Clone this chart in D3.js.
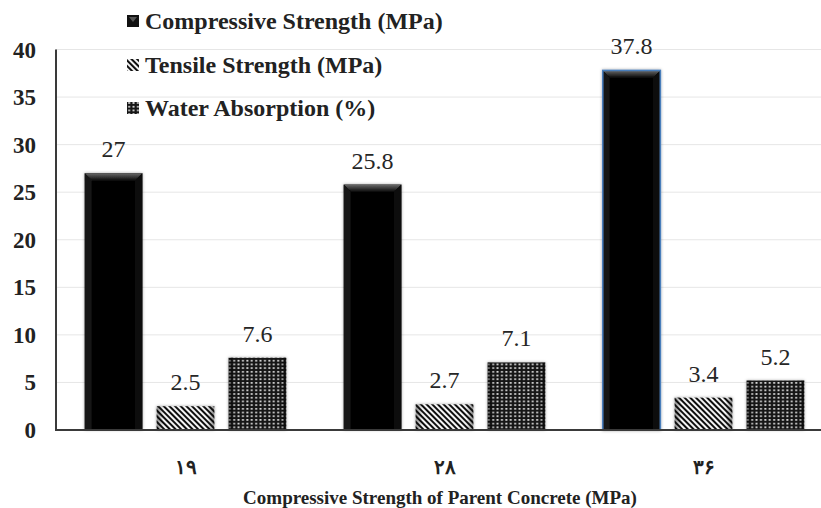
<!DOCTYPE html>
<html>
<head>
<meta charset="utf-8">
<script src="https://cdn.jsdelivr.net/npm/d3@7/dist/d3.min.js"></script>
<style>
  html, body { margin: 0; padding: 0; background: #fff; }
  svg { display: block; }
</style>
</head>
<body>
<svg id="chart" width="821" height="508"></svg>
<script>
// Parent concrete strength groups (Persian numerals) and measured properties
const categories = ["۱۹", "۲۸", "۳۶"];
const seriesNames = ["Compressive Strength (MPa)", "Tensile Strength (MPa)", "Water Absorption (%)"];
const compressive = [27, 25.8, 37.8];
const tensile = [2.5, 2.7, 3.4];
const absorption = [7.6, 7.1, 5.2];
const yTicks = [0, 5, 10, 15, 20, 25, 30, 35, 40];
const xTitle = "Compressive Strength of Parent Concrete (MPa)";

const seriesValues = [compressive, tensile, absorption];
const rows = categories.map((c, i) => ({
  category: c,
  values: seriesNames.map((s, k) => ({ series: s, k, value: seriesValues[k][i] }))
}));

const W = 821, H = 508;
const FONT = '"Liberation Serif", "Times New Roman", serif';
const svg = d3.select("#chart").style("font-family", FONT);

const plotLeft = 56, plotRight = 833, plotTop = 49.5, plotBottom = 430;

const x0 = d3.scaleBand().domain(categories).range([plotLeft, plotRight]).paddingInner(0).paddingOuter(0);
const x1 = d3.scaleBand().domain(d3.range(seriesNames.length))
  .range([0, x0.bandwidth()]).paddingInner(0.2).paddingOuter(0.4);
const y = d3.scaleLinear().domain([0, 40]).range([plotBottom, plotTop]);

// ---------- fills ----------
const defs = svg.append("defs");

const stripes = defs.append("pattern").attr("id", "stripes")
  .attr("patternUnits", "userSpaceOnUse").attr("width", 4).attr("height", 4)
  .attr("patternTransform", "rotate(-45)");
stripes.append("rect").attr("width", 4).attr("height", 4).attr("fill", "#f4f4f4");
stripes.append("rect").attr("width", 2).attr("height", 4).attr("fill", "#111");

const grid = defs.append("pattern").attr("id", "grid")
  .attr("patternUnits", "userSpaceOnUse").attr("width", 4.4).attr("height", 3.7);
grid.append("rect").attr("width", 4.4).attr("height", 3.7).attr("fill", "#151515");
grid.append("rect").attr("x", 1.2).attr("y", 1).attr("width", 1.9).attr("height", 1.6).attr("fill", "#f0f0f0");

// side shading laid over patterned bars
const sideShade = defs.append("linearGradient").attr("id", "sideShade").attr("x1", 0).attr("x2", 1);
[[0, 0.45], [0.12, 0], [0.88, 0], [1, 0.45]].forEach(([o, a]) =>
  sideShade.append("stop").attr("offset", o).attr("stop-color", "#000").attr("stop-opacity", a));

const bevel = defs.append("linearGradient").attr("id", "bevel").attr("x1", 0).attr("x2", 0).attr("y1", 0).attr("y2", 1);
bevel.append("stop").attr("offset", 0).attr("stop-color", "#6a6a6a");
bevel.append("stop").attr("offset", 1).attr("stop-color", "#0c0c0c");

const shadow = defs.append("filter").attr("id", "shadow")
  .attr("x", "-20%").attr("y", "-20%").attr("width", "140%").attr("height", "140%");
shadow.append("feDropShadow").attr("dx", 0).attr("dy", 0).attr("stdDeviation", 1.6)
  .attr("flood-color", "#000").attr("flood-opacity", 0.35);

// ---------- gridlines ----------
svg.append("g").selectAll("line").data(yTicks.filter(t => t > 0)).join("line")
  .attr("x1", plotLeft).attr("x2", W)
  .attr("y1", d => y(d)).attr("y2", d => y(d))
  .attr("stroke", "#e6e6e6").attr("stroke-width", 1);

// ---------- bars ----------
const groups = svg.append("g").selectAll("g").data(rows).join("g")
  .attr("transform", d => `translate(${x0(d.category)},0)`);

groups.each(function(row, gi) {
  const g = d3.select(this);
  row.values.forEach(v => {
    const bx = x1(v.k), bw = x1.bandwidth();
    const by = y(v.value), bh = y(0) - y(v.value);
    const bar = g.append("g").attr("filter", "url(#shadow)");
    if (v.k === 0) {
      bar.append("rect").attr("x", bx).attr("y", by).attr("width", bw).attr("height", bh).attr("fill", "#050505");
      // bevelled top edge
      const b = 7;
      bar.append("path")
        .attr("d", `M${bx},${by}H${bx + bw}L${bx + bw - b},${by + b}H${bx + b}Z`)
        .attr("fill", "url(#bevel)");
      bar.append("path")
        .attr("d", `M${bx},${by}L${bx + b},${by + b}V${y(0)}H${bx}Z`).attr("fill", "#141414");
      bar.append("path")
        .attr("d", `M${bx + bw},${by}L${bx + bw - b},${by + b}V${y(0)}H${bx + bw}Z`).attr("fill", "#0f0f0f");
      if (gi === 2) {
        bar.append("rect").attr("x", bx).attr("y", by).attr("width", bw).attr("height", bh)
          .attr("fill", "none").attr("stroke", "#4a7ebb").attr("stroke-width", 1.6);
      }
    } else {
      bar.append("rect").attr("x", bx).attr("y", by).attr("width", bw).attr("height", bh)
        .attr("fill", v.k === 1 ? "url(#stripes)" : "url(#grid)");
      bar.append("rect").attr("x", bx).attr("y", by).attr("width", bw).attr("height", bh)
        .attr("fill", "url(#sideShade)");
    }
    g.append("text")
      .attr("x", bx + bw / 2).attr("y", by - 16)
      .attr("text-anchor", "middle").attr("font-size", 24).attr("fill", "#262626")
      .text(v.value);
  });
});

// ---------- axes ----------
svg.append("line").attr("x1", plotLeft).attr("x2", plotLeft).attr("y1", plotTop).attr("y2", plotBottom)
  .attr("stroke", "#3a3a3a").attr("stroke-width", 2);
svg.append("line").attr("x1", plotLeft - 1).attr("x2", W).attr("y1", plotBottom).attr("y2", plotBottom)
  .attr("stroke", "#3a3a3a").attr("stroke-width", 2);

svg.append("g").selectAll("text").data(yTicks).join("text")
  .attr("x", 36).attr("y", d => y(d) + 8)
  .attr("text-anchor", "end").attr("font-size", 23).attr("font-weight", "bold").attr("fill", "#222")
  .text(d => d);

svg.append("g").selectAll("text").data(categories).join("text")
  .attr("x", d => x0(d) + x0.bandwidth() / 2).attr("y", 474)
  .attr("text-anchor", "middle").attr("font-size", 20).attr("font-weight", "bold").attr("fill", "#222")
  .text(d => d);

svg.append("text")
  .attr("x", 440).attr("y", 504)
  .attr("text-anchor", "middle").attr("font-size", 19).attr("font-weight", "bold").attr("fill", "#222")
  .text(xTitle);

// ---------- legend ----------
const legendRows = [29, 73, 116];
const legend = svg.append("g").selectAll("g").data(seriesNames).join("g")
  .attr("transform", (d, i) => `translate(127,${legendRows[i]})`);
legend.each(function(name, i) {
  const g = d3.select(this);
  if (i === 0) {
    g.append("rect").attr("x", 0).attr("y", -14).attr("width", 12).attr("height", 12).attr("fill", "#111");
    g.append("path").attr("d", "M2,-12H10L6,-7Z").attr("fill", "#555");
  } else {
    g.append("rect").attr("x", 0).attr("y", -14).attr("width", 12).attr("height", 12)
      .attr("fill", i === 1 ? "url(#stripes)" : "url(#grid)");
  }
  g.append("text")
    .attr("x", 18).attr("y", 0)
    .attr("font-size", 24).attr("font-weight", "bold").attr("fill", "#222")
    .text(name);
});
</script>
</body>
</html>
